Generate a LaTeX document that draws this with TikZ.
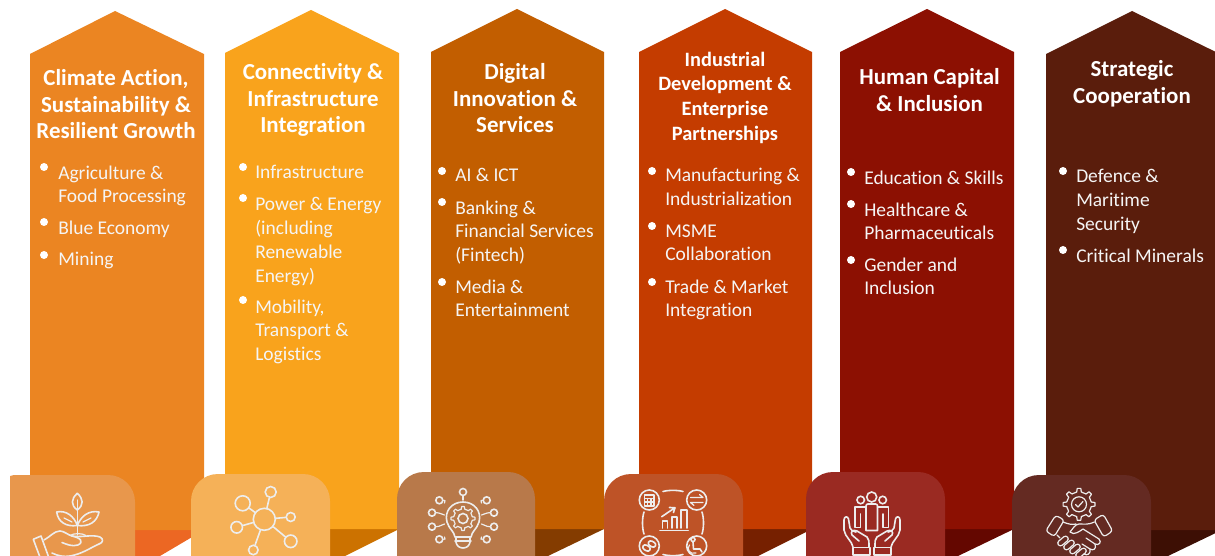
\documentclass[tikz,border=0pt]{standalone}
\usepackage{fontspec}
\setmainfont[Ligatures=NoCommon]{Carlito}
\definecolor{ca}{HTML}{EB8522}\definecolor{cb}{HTML}{F9A31C}\definecolor{cc}{HTML}{C25E00}
\definecolor{cd}{HTML}{C43C00}\definecolor{ce}{HTML}{8C1002}\definecolor{cf}{HTML}{5A1D0C}
\definecolor{sa}{HTML}{EC6723}\definecolor{sb}{HTML}{CC7200}\definecolor{sc}{HTML}{843C00}
\definecolor{sd}{HTML}{762000}\definecolor{se}{HTML}{640700}\definecolor{sf}{HTML}{3D0F04}
\definecolor{ba}{HTML}{E8974C}\definecolor{bb}{HTML}{F5B158}\definecolor{bc}{HTML}{B8794A}
\definecolor{bd}{HTML}{BE5327}\definecolor{be}{HTML}{9A2A22}\definecolor{bf}{HTML}{642A22}
\tikzset{
  ttl/.style={anchor=north,align=center,text=white,inner sep=0pt,yshift=6.2pt,
    font=\fontsize{17.2}{20.2}\selectfont\bfseries},
  ttlsm/.style={ttl,font=\fontsize{15.3}{18.5}\selectfont\bfseries},
  itm/.style={anchor=north west,align=left,text=white!96!black,inner sep=0pt,yshift=5pt,
    font=\fontsize{14.6}{17.8}\selectfont},
  dot/.style={fill=white,draw=none,circle,minimum size=6pt,inner sep=0pt},
  ic/.style={draw=white!93!black,line width=1.2pt,line cap=round,line join=round,fill=none},
  thin ic/.style={ic,line width=.9pt},
  ring/.style={circle,draw=white!93!black,line width=1.2pt,inner sep=0pt,minimum size=#1*0.75pt}
}
\newcommand{\mygear}[6]{% cx cy ro ri n style
  \pgfmathsetmacro{\gstep}{360/#5}
  \pgfmathsetmacro{\wa}{\gstep*0.14}\pgfmathsetmacro{\wb}{\gstep*0.24}
  \foreach \k in {1,...,#5}{
    \pgfmathsetmacro{\ga}{\k*\gstep}
    \pgfmathsetmacro{\gb}{\ga+\gstep-\wb}
    \draw[#6,shift={(#1,#2)}] (\ga-\wb:#4) -- (\ga-\wa:#3) -- (\ga+\wa:#3) -- (\ga+\wb:#4) -- (\gb:#4);
  }
}
\begin{document}
\begin{tikzpicture}[x=0.75pt,y=-0.75pt]
\useasboundingbox (0,0) rectangle (1215,556);
\clip (0,0) rectangle (1215,556);
% shadows
\fill[sa] (130,530) -- (204,530) -- (160,556) -- (130,556) -- cycle;
\fill[sb] (325,529) -- (399,529) -- (345,556) -- (325,556) -- cycle;
\fill[sc] (530,529) -- (604,529) -- (548,556) -- (530,556) -- cycle;
\fill[sd] (738,529) -- (812,529) -- (758,556) -- (738,556) -- cycle;
\fill[se] (940,529) -- (1014,529) -- (958,556) -- (940,556) -- cycle;
\fill[sf] (1146,530) -- (1222,530) -- (1168,556) -- (1146,556) -- cycle;
% columns
\fill[ca] (30,54) -- (115,11) -- (204,54) -- (204,530) -- (30,530) -- cycle;
\fill[cb] (225,53) -- (311,10) -- (399,53) -- (399,529) -- (225,529) -- cycle;
\fill[cc] (431,52) -- (517,9) -- (604,52) -- (604,529) -- (431,529) -- cycle;
\fill[cd] (639,52) -- (725,9) -- (812,52) -- (812,529) -- (639,529) -- cycle;
\fill[ce] (840,52) -- (927,9) -- (1014,52) -- (1014,529) -- (840,529) -- cycle;
\fill[cf] (1046,54) -- (1132,11) -- (1220,54) -- (1220,530) -- (1046,530) -- cycle;
% icon tiles
\fill[ba] (10,560) -- (10,476) -- (14,475) -- (108,475) .. controls (123,475) and (135,487) .. (135,502) -- (135,560) -- cycle;
\fill[bb] (191,560) -- (191,501) .. controls (191,486) and (203,474) .. (218,474) -- (303,474) .. controls (318,474) and (330,486) .. (330,501) -- (330,560) -- cycle;
\fill[bc] (397,560) -- (397,499) .. controls (397,484) and (409,472) .. (424,472) -- (508,472) .. controls (523,472) and (535,484) .. (535,499) -- (535,560) -- cycle;
\fill[bd] (604,560) -- (604,501) .. controls (604,486) and (616,474) .. (631,474) -- (716,474) .. controls (731,474) and (743,486) .. (743,501) -- (743,560) -- cycle;
\fill[be] (806,560) -- (806,499) .. controls (806,484) and (818,472) .. (833,472) -- (918,472) .. controls (933,472) and (945,484) .. (945,499) -- (945,560) -- cycle;
\fill[bf] (1012,560) -- (1012,502) .. controls (1012,487) and (1024,475) .. (1039,475) -- (1124,475) .. controls (1139,475) and (1151,487) .. (1151,502) -- (1151,560) -- cycle;
% titles
\node[ttl] (t1) at (116,77) {Climate Action,\\Sustainability \&\\Resilient Growth};
\node[ttl] (t2) at (313,71) {Connectivity \&\\Infrastructure\\Integration};
\node[ttl] (t3) at (515,71) {Digital\\Innovation \&\\Services};
\node[ttlsm] (t4) at (725,60) {Industrial\\Development \&\\Enterprise\\Partnerships};
\node[ttl] (t5) at (929.5,76) {Human Capital\\\& Inclusion};
\node[ttl] (t6) at (1132,68) {Strategic\\Cooperation};
% bullets col 1
\node[dot] (d11) at (44,167) {}; \node[itm] (i11) at (58,172) {Agriculture \&\\Food Processing};
\node[dot] (d12) at (44,222) {}; \node[itm] (i12) at (58,227) {Blue Economy};
\node[dot] (d13) at (44,255) {}; \node[itm] (i13) at (58,259) {Mining};
% col 2
\node[dot] (d21) at (243,167) {}; \node[itm] (i21) at (255,172) {Infrastructure};
\node[dot] (d22) at (243,198) {}; \node[itm] (i22) at (255,204) {Power \& Energy\\(including\\Renewable\\Energy)};
\node[dot] (d23) at (243,300) {}; \node[itm] (i23) at (255,306) {Mobility,\\Transport \&\\Logistics};
% col 3
\node[dot] (d31) at (442,171) {}; \node[itm] (i31) at (455,175) {AI \& ICT};
\node[dot] (d32) at (442,202) {}; \node[itm] (i32) at (455,207) {Banking \&\\Financial Services\\(Fintech)};
\node[dot] (d33) at (442,282) {}; \node[itm] (i33) at (455,286) {Media \&\\Entertainment};
% col 4
\node[dot] (d41) at (652,171) {}; \node[itm] (i41) at (665,175) {Manufacturing \&\\Industrialization};
\node[dot] (d42) at (652,226) {}; \node[itm] (i42) at (665,231) {MSME\\Collaboration};
\node[dot] (d43) at (652,282) {}; \node[itm] (i43) at (665,286) {Trade \& Market\\Integration};
% col 5
\node[dot] (d51) at (851,172) {}; \node[itm] (i51) at (864,177) {Education \& Skills};
\node[dot] (d52) at (851,204) {}; \node[itm] (i52) at (864,209) {Healthcare \&\\Pharmaceuticals};
\node[dot] (d53) at (851,260) {}; \node[itm] (i53) at (864,264) {Gender and\\Inclusion};
% col 6
\node[dot] (d61) at (1063,171) {}; \node[itm] (i61) at (1076,176) {Defence \&\\Maritime\\Security};
\node[dot] (d62) at (1063,250) {}; \node[itm] (i62) at (1076,255) {Critical Minerals};

% ---- icon 1: plant in hand
\draw[ic] (77.3,493.3) .. controls (71,499) and (70.5,505) .. (77.3,510) .. controls (84,505) and (83.5,499) .. (77.3,493.3) -- cycle;
\draw[thin ic] (77.3,500) -- (77.3,535);
\draw[ic] (56.7,512) .. controls (66,510) and (74,516) .. (77.3,525.5) .. controls (66,527) and (58,522) .. (56.7,512) -- cycle;
\draw[ic] (99,512) .. controls (89,510) and (81,516) .. (77.3,525.5) .. controls (89,527) and (97,522) .. (99,512) -- cycle;
\draw[thin ic] (64,518) -- (72,522) (91,518) -- (83,522);
\draw[ic] (33.3,539.3) -- (41,536) -- (49,558) -- (41,560) -- cycle;
\draw[ic] (44,540) .. controls (50,537) and (54,531) .. (60,531) .. controls (64,531) and (68,535) .. (72,536)
  .. controls (80,538) and (92,534) .. (100,537) .. controls (104,539) and (103,543) .. (99,544)
  .. controls (90,548) and (82,554) .. (70,556) .. controls (64,557) and (58,556) .. (52,553);
\draw[ic] (62,542.5) .. controls (66,544) and (72,547) .. (78,545) .. controls (84,542) and (81,538) .. (72,536);
\draw[thin ic] (70,535.5) .. controls (74,533) and (82,533) .. (86,535.5);

% ---- icon 2: network
\node[ring=22] (n0) at (264.3,519.3) {};
\node[ring=11] (n1) at (270.7,492) {};
\node[ring=15] (n2) at (242.7,503.3) {};
\node[ring=9] (n3) at (290.7,517) {};
\node[ring=11.5] (n4) at (236.7,527.3) {};
\node[ring=12.5] (n5) at (290.7,541.3) {};
\node[ring=9.5] (n6) at (253.3,550) {};
\foreach \s in {n1,n2,n3,n4,n5,n6}{\draw[ic] (n0) -- (\s);}

% ---- icon 3: bulb
\draw[ic] (455,537) .. controls (454,531) and (449,529) .. (447,522) .. controls (444,511) and (452,502) .. (463,502) .. controls (474,502) and (482,511) .. (479,522) .. controls (477,529) and (472,531) .. (471,537) -- cycle;
\mygear{463}{518.5}{12}{9.5}{8}{thin ic}
\node[ring=10] (g3) at (463,518.5) {};
\draw[ic] (455,541) -- (471,541) (456,537) -- (456,542) .. controls (457,550) and (469,550) .. (470,542) -- (470,537);
\node[ring=7] (c1) at (463,492) {};
\coordinate (c1e) at (463,500);
\draw[ic] (c1) -- (c1e);
\foreach \i/\dx/\sgn/\yy/\ye in {1/-23.7/-1/500.3/503,2/23.7/1/500.3/503,3/-31/-1/512.7/515,4/31/1/512.7/515,5/-31/-1/526.7/524,6/31/1/526.7/524,7/-23.7/-1/539.3/537,8/23.7/1/539.3/537}{
  \node[ring=7] (w\i) at (463+\dx,\yy) {};
  \coordinate (we\i) at (463+\sgn*18.5,\ye);
  \draw[thin ic] (w\i) .. controls (463+\dx-\sgn*6,\yy) .. (we\i);
}

% ---- icon 4: chart in ring
\foreach \px/\py/\nm in {649.3/500/q1,696.7/500/q2,649.3/546/q3,696.7/546/q4}{\node[ring=20] (\nm) at (\px,\py) {};}
\draw[ic] (663,491.5) .. controls (668,490) and (678,490) .. (683,491.5);
\draw[ic] (663,554.5) .. controls (668,556) and (678,556) .. (683,554.5);
\draw[ic] (644,512) .. controls (642,518) and (642,528) .. (644,534);
\draw[ic] (702,512) .. controls (704,518) and (704,528) .. (702,534);
\draw[ic] (660,530.3) -- (688.3,530.3);
\draw[ic] (662.3,528) -- (662.3,521) -- (667.3,521) -- (667.3,528);
\draw[ic] (671.7,528) -- (671.7,516.7) -- (676.7,516.7) -- (676.7,528);
\draw[ic] (681,528) -- (681,510) -- (686.7,510) -- (686.7,528);
\draw[ic] (661.7,516.7) -- (675,507.7) (669.5,507.5) -- (675,507.7) -- (673.5,512.5);
\draw[thin ic] (644.5,495) rectangle (654,506);
\draw[thin ic] (644.5,498.5) -- (654,498.5) (644.5,502) -- (654,502) (647.5,498.5) -- (647.5,506) (651,498.5) -- (651,506);
\draw[thin ic] (690.5,497.5) -- (703,497.5) (699.5,494.5) -- (703,497.5) (690.5,502.5) -- (703,502.5) (690.5,502.5) -- (694,505.5);
\draw[ic,rounded corners=2pt,rotate around={-30:(646.5,548)}] (642.5,545.5) rectangle (650.5,550.5);
\draw[ic,rounded corners=2pt,rotate around={-30:(652,544)}] (648,541.5) rectangle (656,546.5);
\node[ring=4] (q5) at (693,539.5) {};
\draw[ic] (693,542) -- (693.5,549) -- (700,549) -- (702,552);
\draw[thin ic] (689.5,545) .. controls (686,549) and (690,555) .. (696,553);

% ---- icon 5: people in hands
\node[ring=7.5] (h1) at (860.7,500) {};
\node[ring=10] (h2) at (871.7,497) {};
\node[ring=7.5] (h3) at (882.7,500) {};
\draw[ic] (866,506) .. controls (866,504.5) and (867,504) .. (868,504) -- (875.5,504) .. controls (877,504) and (877.5,505) .. (877.5,506) -- (877.5,530.5) -- (866,530.5) -- cycle;
\draw[ic] (866,507) -- (855,507) -- (855,527.5) -- (860.5,527.5) -- (860.5,514);
\draw[ic] (877.5,507) -- (888.5,507) -- (888.5,527.5) -- (883,527.5) -- (883,514);
\foreach \sc in {1,-1}{
 \begin{scope}[shift={(872,0)},xscale=\sc]
  \draw[ic] (-19,547.5) rectangle (-2,555);
  \draw[ic] (-19,547) .. controls (-20,541) and (-27,537) .. (-28,530) -- (-28,520) .. controls (-28,516) and (-24,516) .. (-23.5,519) -- (-22,528) .. controls (-21,530) and (-19,532) .. (-16,532);
  \draw[ic] (-3,547) .. controls (-3,541) and (-3,539) .. (-5,537) -- (-15,531) .. controls (-19,529) and (-22,532) .. (-20,535) -- (-13,541);
 \end{scope}
}

% ---- icon 6: gear + handshake
\mygear{1079}{504.3}{16}{12.5}{8}{thin ic}
\node[ring=15,line width=.9pt] (g6) at (1079,504.3) {};
\draw[thin ic] (1075.5,504.5) -- (1078,507) -- (1083,501.5);
\draw[thin ic,rounded corners=2.2pt] (1045.7,531) -- (1055.7,515.3) -- (1064.3,520) -- (1054.3,536.5) -- cycle;
\draw[thin ic,rounded corners=2.2pt] (1112.7,531) -- (1103.3,514.3) -- (1094,520) -- (1103.7,537) -- cycle;
\draw[thin ic] (1063,522) .. controls (1068,524) and (1072,525) .. (1076,524) (1094.5,522) .. controls (1088,525) and (1084,524) .. (1079,524) .. controls (1075,524) and (1072,530) .. (1070,532) .. controls (1074,536) and (1080,531) .. (1083,529) -- (1099,539);
\draw[thin ic] (1099,539) .. controls (1102,542) and (1099,546) .. (1095,544) -- (1086,538);
\draw[thin ic] (1095,544) .. controls (1097,549) and (1093,551) .. (1090,549) -- (1082,544);
\draw[thin ic] (1090,549) .. controls (1091,554) and (1087,556) .. (1084,554);
\draw[thin ic] (1057,535) -- (1060,538);
\foreach \fx/\fy in {1063/541,1069/545,1075/549,1081/553}{
  \draw[thin ic,rounded corners=2pt,rotate around={40:(\fx,\fy)}] (\fx-6,\fy-2.7) rectangle (\fx+6,\fy+2.7);
}
\end{tikzpicture}
\end{document}
